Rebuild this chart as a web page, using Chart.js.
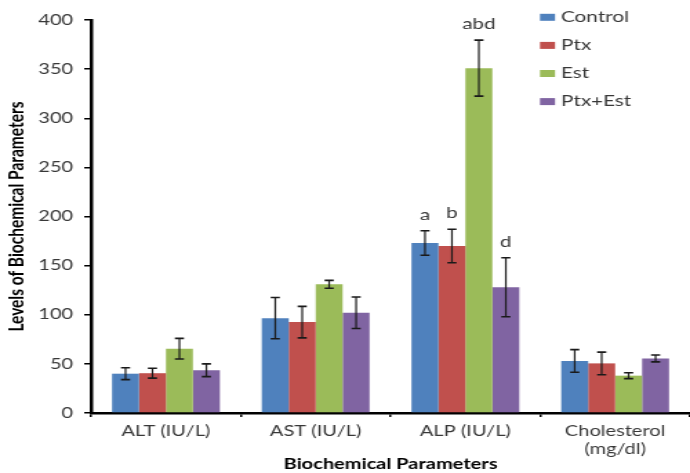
<!DOCTYPE html>
<html>
<head>
<meta charset="utf-8">
<title>Biochemical Parameters</title>
<script src="https://cdn.jsdelivr.net/npm/chart.js@4.4.1/dist/chart.umd.min.js"></script>
<style>
  html, body { margin: 0; padding: 0; background: #ffffff; overflow: hidden; }
  #chart { display: block; }
</style>
</head>
<body>
<!-- the drawing surface is widened horizontally, like the original figure -->
<canvas id="chart" width="500" height="473" style="width:690px;height:473px"></canvas>
<script>
// ---- data ----
const categories = ['ALT (IU/L)', 'AST (IU/L)', 'ALP (IU/L)', ['Cholesterol', '(mg/dl)']];

const controlValues = [40, 96.5, 173, 53];
const controlErrors = [6, 21, 12.5, 11.5];
const ptxValues     = [40.5, 92.5, 170, 50.5];
const ptxErrors     = [5, 16, 17, 11.5];
const estValues     = [65.5, 131, 351, 38];
const estErrors     = [10.5, 4, 28.5, 3];
const ptxEstValues  = [43.5, 102, 128, 55.5];
const ptxEstErrors  = [6.5, 16, 30, 3.5];

// significance letters shown above the bars
const controlSig = ['', '', 'a', ''];
const ptxSig     = ['', '', 'b', ''];
const estSig     = ['', '', 'abd', ''];
const ptxEstSig  = ['', '', 'd', ''];

const yTicks = { min: 0, max: 400, step: 50 };

// ---- styling ----
const FONT = 'Lato';
const TEXT = '#383838';

// error whiskers and significance letters
const errorBarPlugin = {
  id: 'errorBars',
  afterDatasetsDraw(chart) {
    const { ctx } = chart;
    const yScale = chart.scales.y;
    ctx.save();
    chart.data.datasets.forEach((ds, i) => {
      const meta = chart.getDatasetMeta(i);
      meta.data.forEach((bar, j) => {
        const v = ds.data[j];
        const e = ds.errors[j];
        const yTop = yScale.getPixelForValue(v + e);
        const yBot = yScale.getPixelForValue(v - e);
        const cap = 3.3;
        ctx.strokeStyle = '#1a1a1a';
        ctx.lineWidth = 1.2;
        ctx.beginPath();
        ctx.moveTo(bar.x, yTop);
        ctx.lineTo(bar.x, yBot);
        ctx.stroke();
        ctx.lineWidth = 1.6;
        ctx.beginPath();
        ctx.moveTo(bar.x - cap, yTop);
        ctx.lineTo(bar.x + cap, yTop);
        ctx.moveTo(bar.x - cap, yBot);
        ctx.lineTo(bar.x + cap, yBot);
        ctx.stroke();
        const sig = ds.sig[j];
        if (sig) {
          ctx.fillStyle = TEXT;
          ctx.font = '15px ' + FONT;
          ctx.textAlign = 'center';
          ctx.textBaseline = 'middle';
          ctx.fillText(sig, bar.x, yTop - 16);
        }
      });
    });
    ctx.restore();
  }
};

// legend drawn inside the plot, upper right
const insideLegendPlugin = {
  id: 'insideLegend',
  afterDraw(chart) {
    const { ctx, chartArea } = chart;
    const x0 = chartArea.right - 108.7;
    const y0 = 17.3;
    const step = 28.1;
    ctx.save();
    ctx.font = '15px ' + FONT;
    ctx.textAlign = 'left';
    ctx.textBaseline = 'middle';
    chart.data.datasets.forEach((ds, i) => {
      const y = y0 + i * step;
      ctx.fillStyle = ds.backgroundColor;
      ctx.fillRect(x0, y - 3.5, 10.9, 7);
      ctx.fillStyle = TEXT;
      ctx.fillText(ds.label, x0 + 15.2, y);
    });
    ctx.restore();
  }
};

function build() {
  Chart.defaults.font.family = FONT;
  new Chart(document.getElementById('chart'), {
    type: 'bar',
    data: {
      labels: categories,
      datasets: [
        { label: 'Control', data: controlValues, errors: controlErrors, sig: controlSig, backgroundColor: '#4F81BD' },
        { label: 'Ptx', data: ptxValues, errors: ptxErrors, sig: ptxSig, backgroundColor: '#C0504D' },
        { label: 'Est', data: estValues, errors: estErrors, sig: estSig, backgroundColor: '#9BBB59' },
        { label: 'Ptx+Est', data: ptxEstValues, errors: ptxEstErrors, sig: ptxEstSig, backgroundColor: '#8064A2' }
      ]
    },
    options: {
      responsive: false,
      animation: false,
      devicePixelRatio: 1,
      layout: { padding: { top: 20, right: 0, bottom: 0, left: 0 } },
      datasets: { bar: { categoryPercentage: 0.72, barPercentage: 1.0, borderWidth: 0 } },
      plugins: { legend: { display: false }, tooltip: { enabled: false } },
      scales: {
        x: {
          grid: { display: true, drawOnChartArea: false, offset: true, color: '#000', lineWidth: 1.5, tickLength: 4 },
          border: { display: true, color: '#000', width: 2.5 },
          ticks: { color: TEXT, font: { size: 14.5, lineHeight: 1.25 }, padding: 5, maxRotation: 0 },
          title: { display: true, text: 'Biochemical Parameters', color: '#000',
                   font: { size: 14.5, weight: 'bold' }, padding: { top: 0, bottom: 0 } },
          afterFit(scale) { scale.height = 60; }
        },
        y: {
          min: yTicks.min,
          max: yTicks.max,
          ticks: { stepSize: yTicks.step, color: TEXT, font: { size: 14.5 }, padding: 8 },
          grid: { display: true, drawOnChartArea: false, color: '#000', lineWidth: 1.5, tickLength: 5 },
          border: { display: true, color: '#000', width: 2.5 },
          title: { display: true, text: 'Levels of Biochemical Parameters', color: '#000',
                   font: { size: 15.5, weight: 'bold' }, padding: { top: 3, bottom: 0 } },
          afterFit(scale) { scale.width = 66; }
        }
      }
    },
    plugins: [errorBarPlugin, insideLegendPlugin]
  });
}

Promise.all([
  document.fonts.load('14.5px Lato'),
  document.fonts.load('bold 14.5px Lato')
]).then(build, build);
</script>
</body>
</html>
